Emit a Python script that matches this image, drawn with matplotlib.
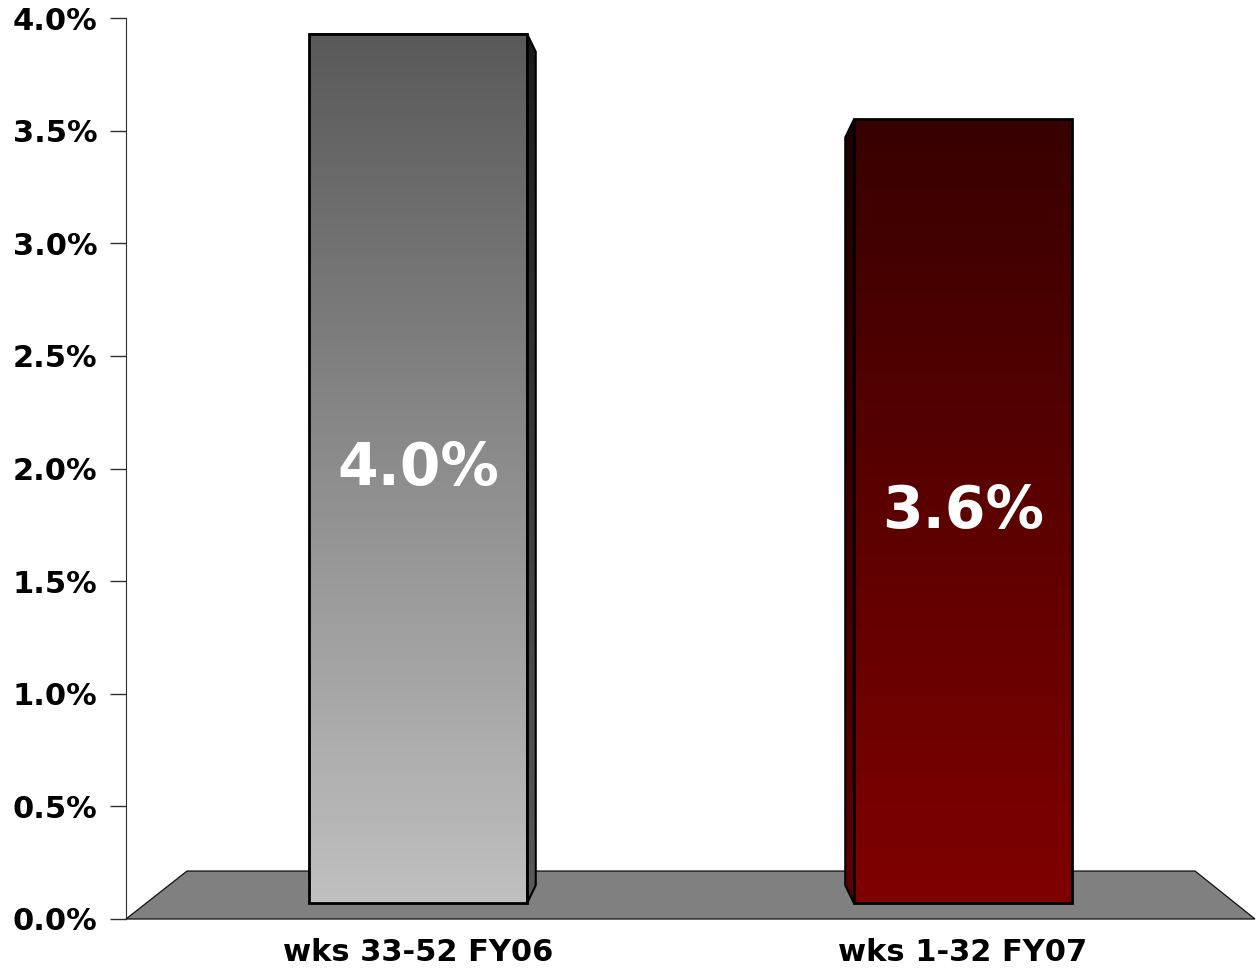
import numpy as np
import matplotlib
matplotlib.use('Agg')
import matplotlib.pyplot as plt
from matplotlib.colors import LinearSegmentedColormap
from matplotlib.patches import Polygon, Rectangle

# data
categories = ['wks 33-52 FY06', 'wks 1-32 FY07']
values = [4.0, 3.6]
value_labels = ['4.0%', '3.6%']

front_colors = [('#c0c0c0', '#595959'), ('#800000', '#380000')]   # bottom, top
side_colors = [('#5a5a5a', '#1a1a1a'), ('#600000', '#1c0000')]
side_dir = [1, -1]   # first bar shows its right side, second its left side

fig = plt.figure(figsize=(12.59, 9.74), dpi=100)
ax = fig.add_axes([126 / 1259, 55 / 974, 1129 / 1259, 901 / 974])

xlo, xhi = -0.536, 1.536
ylo, yhi = 0.0, 4.0
width = 0.4
base = 0.07      # front face bottom sits on the floor
depth_x = 0.016
depth_y = 0.08

# floor
floor = Polygon([(xlo, 0), (xhi, 0), (1.426, 0.213), (-0.424, 0.213)],
                closed=True, facecolor='#808080', edgecolor='#101010',
                lw=0.9, zorder=1, clip_on=False)
ax.add_patch(floor)

grad = np.linspace(0, 1, 256)[:, None]
for i, v in enumerate(values):
    x0 = i - width / 2
    x1 = i + width / 2
    top = v * 0.95 + 0.13   # perspective shrink of the front face
    # side face
    d = side_dir[i]
    xe = x1 if d > 0 else x0
    side = [(xe, top), (xe + d * depth_x, top - depth_y),
            (xe + d * depth_x, base + depth_y), (xe, base)]
    cm_s = LinearSegmentedColormap.from_list('s%d' % i, side_colors[i])
    sx = sorted([xe, xe + d * depth_x])
    im = ax.imshow(grad, extent=[sx[0], sx[1], base, top], cmap=cm_s,
                   origin='lower', aspect='auto', zorder=2)
    sp = Polygon(side, closed=True, facecolor='none', edgecolor='black',
                 lw=1.5, zorder=3)
    ax.add_patch(sp)
    im.set_clip_path(sp)
    # front face
    cm_f = LinearSegmentedColormap.from_list('f%d' % i, front_colors[i])
    ax.imshow(grad, extent=[x0, x1, base, top], cmap=cm_f,
              origin='lower', aspect='auto', zorder=2)
    ax.add_patch(Rectangle((x0, base), width, top - base, facecolor='none',
                           edgecolor='black', lw=2, zorder=3))
    ax.text(i, (base + top) / 2, value_labels[i], color='white',
            fontsize=42, fontweight='bold', ha='center', va='center', zorder=4)

ax.set_xlim(xlo, xhi)
ax.set_ylim(ylo, yhi)
ticks = np.arange(0, 4.01, 0.5)
ax.set_yticks(ticks)
ax.set_yticklabels(['%.1f%%' % t for t in ticks], fontsize=22, fontweight='bold')
ax.set_xticks([0, 1])
ax.set_xticklabels(categories, fontsize=22, fontweight='bold')
ax.tick_params(axis='x', length=0, pad=14)
ax.tick_params(axis='y', length=11.5, width=1, color='#303030', pad=9)
for s in ['top', 'right', 'bottom']:
    ax.spines[s].set_visible(False)
ax.spines['left'].set_color('#303030')
ax.spines['left'].set_zorder(5)
ax.patch.set_visible(False)

fig.savefig('out.png', dpi=100)
